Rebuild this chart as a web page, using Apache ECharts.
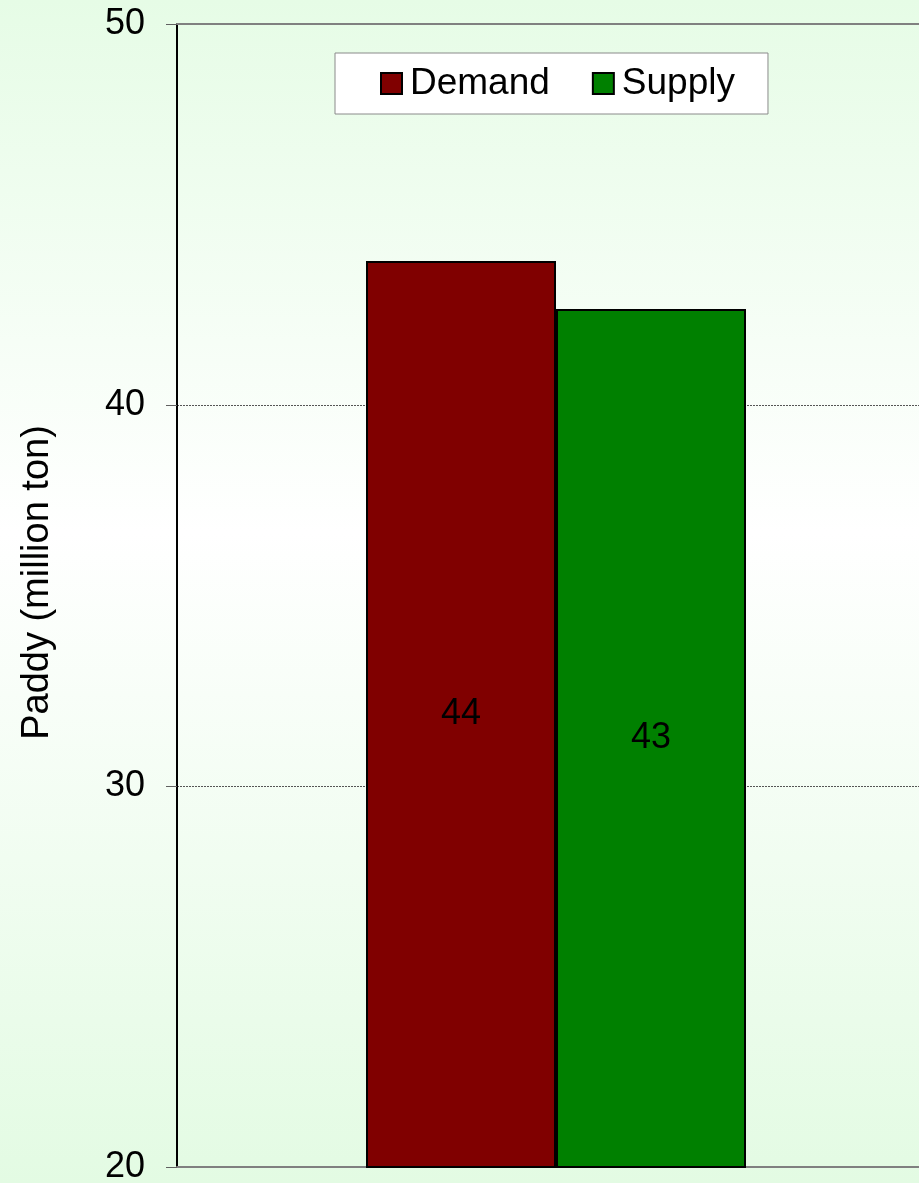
<!DOCTYPE html>
<html>
<head>
<meta charset="utf-8">
<script src="https://cdn.jsdelivr.net/npm/echarts@6/dist/echarts.min.js"></script>
<style>
html,body{margin:0;padding:0;}
#chart{width:919px;height:1183px;}
</style>
</head>
<body>
<div id="chart"></div>
<script>
const categories = ['Paddy'];
const seriesNames = ['Demand', 'Supply'];
const demandValues = [43.78];
const supplyValues = [42.52];
const yTicks = [20, 30, 40, 50];

const FONT = '"Liberation Sans", Arial, sans-serif';
const chart = echarts.init(document.getElementById('chart'));
chart.setOption({
  animation: false,
  backgroundColor: new echarts.graphic.LinearGradient(0, 0, 0, 1, [
    {offset: 0, color: '#e6fce6'},
    {offset: 0.45, color: '#ffffff'},
    {offset: 1, color: '#e3fbe3'}
  ]),
  textStyle: {fontFamily: FONT},
  legend: {
    data: seriesNames,
    left: 335, top: 53,
    backgroundColor: '#ffffff',
    borderColor: '#8a8a8a', borderWidth: 1,
    padding: [12, 33, 12, 45],
    itemWidth: 21, itemHeight: 21, itemGap: 42,
    icon: 'rect',
    textStyle: {fontSize: 37, color: '#000', fontFamily: FONT, padding: [0, 0, 0, 3]}
  },
  grid: {left: 177, top: 24, width: 758, height: 1143, containLabel: false, outerBoundsMode: 'none'},
  xAxis: [{
    type: 'category', data: categories,
    axisLine: {show: true, lineStyle: {color: '#808080', width: 2}},
    axisTick: {show: false}, axisLabel: {show: false}
  }, {
    type: 'category', data: categories, position: 'top',
    axisLine: {show: true, lineStyle: {color: '#808080', width: 2}},
    axisTick: {show: false}, axisLabel: {show: false}
  }],
  yAxis: {
    type: 'value', min: yTicks[0], max: yTicks[yTicks.length - 1], interval: 10,
    name: 'Paddy (million ton)', nameLocation: 'middle', nameGap: 120,
    nameTextStyle: {fontSize: 38, color: '#000', fontFamily: FONT, padding: [0, 0, 0, 26]},
    axisLine: {show: true, lineStyle: {color: '#000', width: 2}},
    axisTick: {show: true, length: 11, lineStyle: {color: '#606060', width: 1}},
    axisLabel: {fontSize: 36, color: '#000', margin: 32, fontFamily: FONT},
    splitLine: {show: true, lineStyle: {color: '#555', width: 1, type: [2, 1]}}
  },
  series: [{
    name: seriesNames[0], type: 'bar', data: demandValues,
    barWidth: 190, barGap: '0%',
    itemStyle: {color: '#800000', borderColor: '#000', borderWidth: 2},
    label: {show: true, position: 'inside', fontSize: 36, color: '#000', fontFamily: FONT,
      formatter: p => Math.round(p.value)}
  }, {
    name: seriesNames[1], type: 'bar', data: supplyValues,
    barWidth: 190, barGap: '0%',
    itemStyle: {color: '#008000', borderColor: '#000', borderWidth: 2},
    label: {show: true, position: 'inside', fontSize: 36, color: '#000', fontFamily: FONT,
      formatter: p => Math.round(p.value)}
  }]
});
</script>
</body>
</html>
